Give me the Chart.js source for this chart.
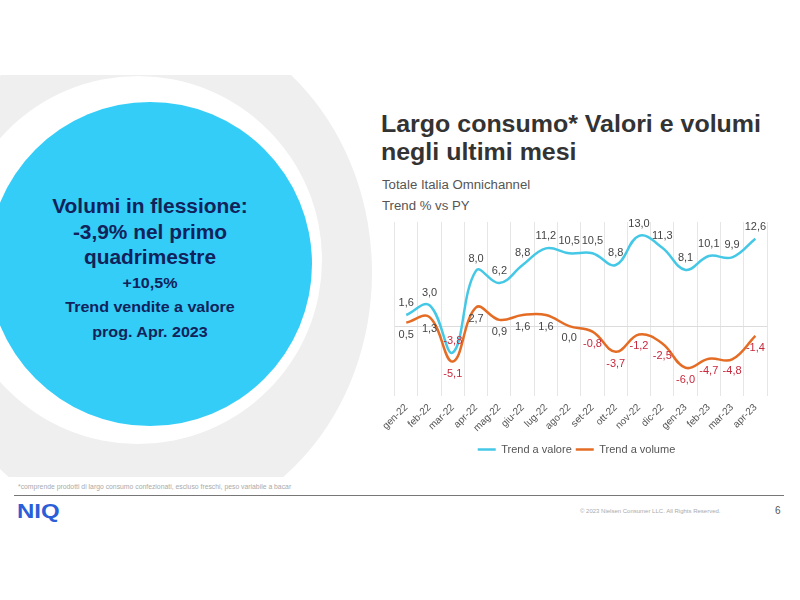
<!DOCTYPE html>
<html>
<head>
<meta charset="utf-8">
<script src="https://cdn.jsdelivr.net/npm/chart.js@4"></script>
<style>
  html, body { margin: 0; padding: 0; background: #fff; }
  body { width: 800px; height: 600px; position: relative; overflow: hidden; font-family: "Liberation Sans", Arial, sans-serif; }
  #band { position: absolute; left: 0; top: 75px; width: 420px; height: 402px; overflow: hidden; }
  .ring { position: absolute; border-radius: 50%; }
  #outer { left: -80px; top: -60px; width: 452px; height: 515px; background: #efefef; }
  #inner { left: -46px; top: 1px; width: 368px; height: 368px; background: #fff; }
  #disc { left: -12px; top: 102px; width: 324px; height: 324px; background: #33cdf8; }
  #callout { position: absolute; left: 0; width: 300px; top: 194px; text-align: center; color: #12225a; font-weight: bold; transform: scaleX(1.07); transform-origin: 150px 0; }
  #callout .big { font-size: 19.5px; line-height: 25.5px; }
  #callout .small { font-size: 15px; line-height: 24.5px; }
  #title { position: absolute; left: 381px; top: 110px; font-size: 23px; line-height: 28px; font-weight: bold; color: #333; transform: scaleX(1.085); transform-origin: 0 0; }
  #sub { position: absolute; left: 382px; top: 175px; font-size: 12px; line-height: 21px; color: #555; transform: scaleX(1.1); transform-origin: 0 0; }
  #chartBox { position: absolute; left: 378px; top: 212px; width: 400px; height: 253px; }
  #note { position: absolute; left: 18px; top: 483px; font-size: 6.5px; color: #aaa; transform: scaleX(1.05); transform-origin: 0 0; }
  #rule { position: absolute; left: 14px; top: 495px; width: 770px; height: 1px; background: #777; }
  #logo { position: absolute; left: 17px; top: 500px; font-size: 20px; font-weight: bold; color: #2b5ed8; transform: scaleX(1.2); transform-origin: 0 0; }
  #copy { position: absolute; left: 580px; top: 508px; font-size: 6px; color: #aaa; }
  #page { position: absolute; left: 775px; top: 505px; font-size: 10px; color: #555; }
</style>
</head>
<body>
<div id="band">
  <div class="ring" id="outer"></div>
  <div class="ring" id="inner"></div>
</div>
<div class="ring" id="disc"></div>
<div id="callout">
  <div class="big">Volumi in flessione:</div>
  <div class="big">-3,9% nel primo</div>
  <div class="big">quadrimestre</div>
  <div class="small">+10,5%</div>
  <div class="small">Trend vendite a valore</div>
  <div class="small">prog. Apr. 2023</div>
</div>
<div id="title">Largo consumo* Valori e volumi<br>negli ultimi mesi</div>
<div id="sub">Totale Italia Omnichannel<br>Trend % vs PY</div>
<div id="chartBox"><canvas id="trendChart"></canvas></div>
<div id="note">*comprende prodotti di largo consumo confezionati, escluso freschi, peso variabile a bacar</div>
<div id="rule"></div>
<div id="logo">NIQ</div>
<div id="copy">© 2023 Nielsen Consumer LLC. All Rights Reserved.</div>
<div id="page">6</div>

<script>
const months = ['gen-22', 'feb-22', 'mar-22', 'apr-22', 'mag-22', 'giu-22', 'lug-22', 'ago-22',
  'set-22', 'ott-22', 'nov-22', 'dic-22', 'gen-23', 'feb-23', 'mar-23', 'apr-23'];
const trendValore = [1.6, 3.0, -3.8, 8.0, 6.2, 8.8, 11.2, 10.5, 10.5, 8.8, 13.0, 11.3, 8.1, 10.1, 9.9, 12.6];
const trendVolume = [0.5, 1.3, -5.1, 2.7, 0.9, 1.6, 1.6, 0.0, -0.8, -3.7, -1.2, -2.5, -6.0, -4.7, -4.8, -1.4];

const fmt = v => v.toFixed(1).replace('.', ',');

// value labels: first series above the points, second below, negatives in red
const pointLabels = {
  id: 'pointLabels',
  afterDatasetsDraw(chart) {
    const ctx = chart.ctx;
    ctx.save();
    ctx.font = '11px "Liberation Sans", Arial, sans-serif';
    ctx.textAlign = 'center';
    ctx.textBaseline = 'middle';
    chart.data.datasets.forEach((ds, i) => {
      const shift = i === 0 ? -12 : 12;
      chart.getDatasetMeta(i).data.forEach((pt, j) => {
        const v = ds.data[j];
        ctx.fillStyle = v < 0 ? '#c8283c' : '#444';
        ctx.fillText(fmt(v), pt.x, pt.y + shift);
      });
    });
    ctx.restore();
  }
};

new Chart(document.getElementById('trendChart'), {
  type: 'line',
  data: {
    labels: months,
    datasets: [
      {
        label: 'Trend a valore',
        data: trendValore,
        borderColor: '#45c8e6',
        backgroundColor: '#45c8e6',
        borderWidth: 2.5,
        pointRadius: 0,
        tension: 0.4
      },
      {
        label: 'Trend a volume',
        data: trendVolume,
        borderColor: '#e46c24',
        backgroundColor: '#e46c24',
        borderWidth: 2.5,
        pointRadius: 0,
        tension: 0.4
      }
    ]
  },
  options: {
    responsive: true,
    maintainAspectRatio: false,
    animation: false,
    layout: { padding: { left: 8, right: 11, top: 10, bottom: 0 } },
    plugins: {
      tooltip: { enabled: false },
      legend: {
        position: 'bottom',
        labels: {
          usePointStyle: true,
          pointStyle: 'line',
          pointStyleWidth: 18,
          boxHeight: 10,
          color: '#555',
          font: { size: 11, family: '"Liberation Sans", Arial, sans-serif' },
          padding: 4
        }
      }
    },
    scales: {
      x: {
        offset: true,
        grid: { offset: true, color: '#e6e6e6', drawTicks: false },
        border: { display: false },
        ticks: {
          maxRotation: 45,
          minRotation: 45,
          color: '#555',
          padding: 6,
          font: { size: 10, family: '"Liberation Sans", Arial, sans-serif' }
        }
      },
      y: {
        min: -10,
        max: 15,
        ticks: { display: false, stepSize: 5 },
        border: { display: false },
        grid: {
          drawTicks: false,
          color: c => c.tick.value === 0 ? '#dcdcdc' : 'transparent'
        }
      }
    }
  },
  plugins: [pointLabels]
});
</script>
</body>
</html>
